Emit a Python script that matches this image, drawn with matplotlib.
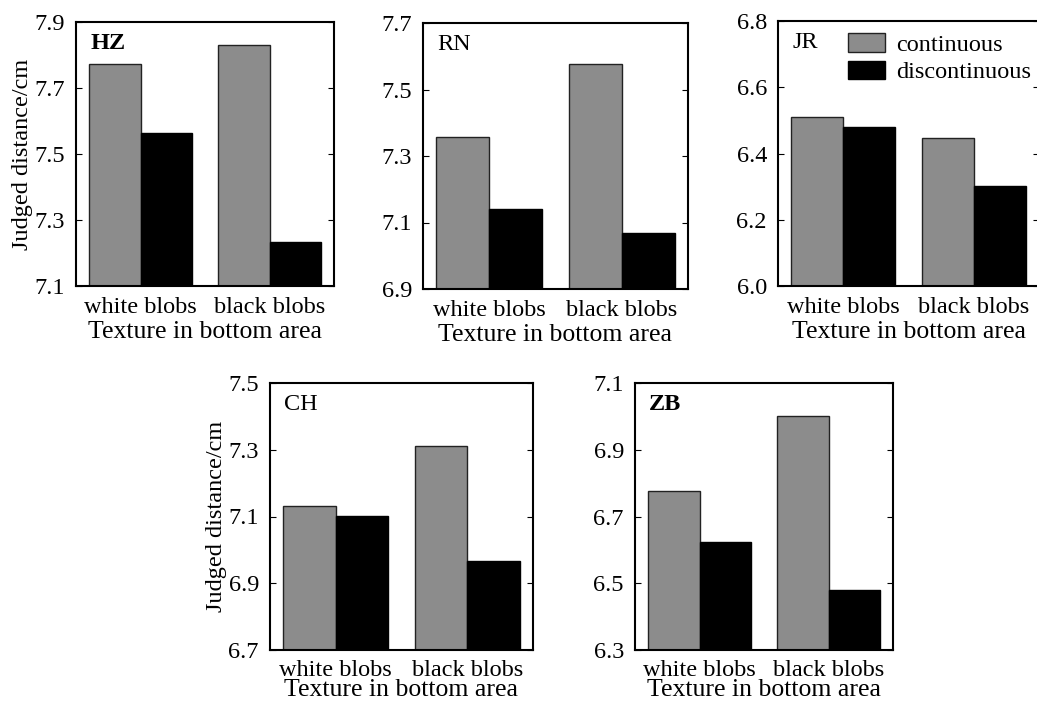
import numpy as np
import matplotlib
matplotlib.use("Agg")
import matplotlib.pyplot as plt
from matplotlib.patches import Patch

plt.rcParams['font.family'] = ['Liberation Serif', 'DejaVu Serif']
plt.rcParams['font.size'] = 17.5

# data
categories = ['white blobs', 'black blobs']
subjects = ['HZ', 'RN', 'JR', 'CH', 'ZB']
continuous = {
    'HZ': [7.773, 7.830],
    'RN': [7.357, 7.577],
    'JR': [6.510, 6.447],
    'CH': [7.131, 7.310],
    'ZB': [6.776, 7.002],
}
discontinuous = {
    'HZ': [7.564, 7.233],
    'RN': [7.141, 7.068],
    'JR': [6.480, 6.302],
    'CH': [7.102, 6.968],
    'ZB': [6.624, 6.481],
}
y_ranges = {
    'HZ': (7.1, 7.9),
    'RN': (6.9, 7.7),
    'JR': (6.0, 6.8),
    'CH': (6.7, 7.5),
    'ZB': (6.3, 7.1),
}

W, H = 1037, 704
# axes boxes in pixels: left, top, right, bottom
boxes = {
    'HZ': (76, 22, 334, 286),
    'RN': (423, 23, 688, 289),
    'JR': (778, 21, 1039, 286),
    'CH': (270, 383, 533, 650),
    'ZB': (635, 383, 893, 650),
}
bold_names = ['HZ', 'ZB']
gray = '#8c8c8c'

fig = plt.figure(figsize=(W / 100, H / 100), dpi=100)

x = np.arange(len(categories))
bw = 0.4
for s in subjects:
    l, t, r, b = boxes[s]
    bottom_row = s in ('CH', 'ZB')
    ax = fig.add_axes([l / W, 1 - b / H, (r - l) / W, (b - t) / H])
    lo, hi = y_ranges[s]
    ax.bar(x - bw / 2, continuous[s], bw, color=gray, edgecolor='#222222', linewidth=1)
    ax.bar(x + bw / 2, discontinuous[s], bw, color='black', edgecolor='black', linewidth=1)
    ax.set_ylim(lo, hi)
    ax.set_xlim(-0.5, 1.5)
    ticks = np.linspace(lo, hi, 5)
    ax.set_yticks(ticks)
    ax.set_yticklabels(['%.1f' % v for v in ticks])
    ax.set_xticks(x)
    ax.set_xticklabels(categories)
    ax.tick_params(axis='x', length=0, pad=7 if bottom_row else 8)
    ax.tick_params(axis='y', direction='in', length=4, right=True, pad=8)
    for sp in ax.spines.values():
        sp.set_linewidth(1.5)
    ax.set_xlabel('Texture in bottom area', fontsize=18.5,
                  labelpad=-1 if bottom_row else 2)
    if s in ('HZ', 'CH'):
        ax.set_ylabel('Judged distance/cm', labelpad=1)
    ax.text(0.055, 0.92, s, transform=ax.transAxes, va='center', ha='left',
            fontweight='bold' if s in bold_names else 'normal')
    if s == 'JR':
        handles = [Patch(facecolor=gray, edgecolor='#222222'),
                   Patch(facecolor='black', edgecolor='black')]
        ax.legend(handles, ['continuous', 'discontinuous'], loc='upper left',
                  bbox_to_anchor=(0.22, 1.0), frameon=False, borderaxespad=0.1,
                  handlelength=1.55, handleheight=0.8, handletextpad=0.45,
                  labelspacing=0.2)

fig.savefig('out.png', dpi=100)
